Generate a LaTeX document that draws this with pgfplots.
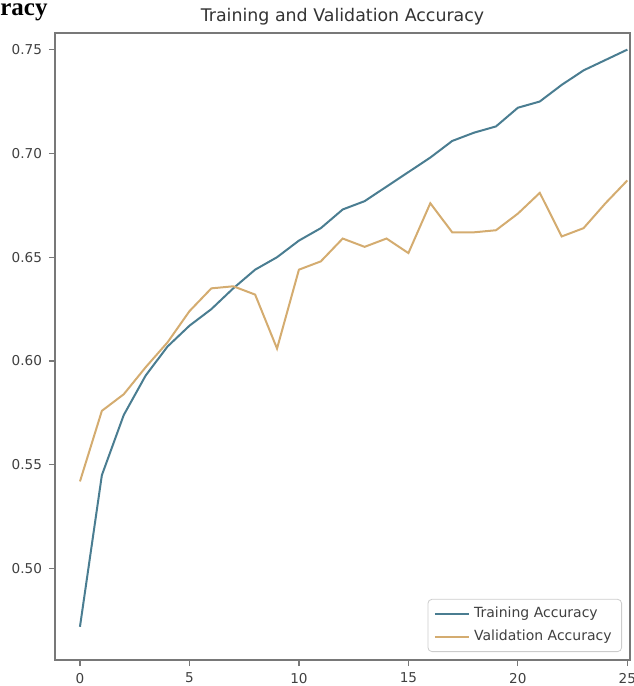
\documentclass[border=0pt]{standalone}
\usepackage{fontspec}
\setmainfont{DejaVu Sans}
\newfontfamily\serifbold{Liberation Serif}
\usepackage{pgfplots}
\pgfplotsset{compat=1.18}
\definecolor{trainc}{RGB}{74,125,145}
\definecolor{valc}{RGB}{212,172,112}
\definecolor{spine}{RGB}{120,120,120}
\begin{document}
\begin{tikzpicture}
\begin{axis}[
  scale only axis,
  width=287.5pt, height=313.5pt,
  xmin=-1.14, xmax=25.12,
  ymin=0.456, ymax=0.758,
  xtick={0,5,10,15,20,25},
  ytick={0.50,0.55,0.60,0.65,0.70,0.75},
  yticklabels={0.50,0.55,0.60,0.65,0.70,0.75},
  tick align=outside,
  tick pos=left,
  major tick length=3pt,
  every tick/.style={spine, line width=0.6pt},
  axis line style={spine, line width=0.7pt},
  /pgf/number format/assume math mode=true,
  ticklabel style={font=\fontsize{6.8}{8}\selectfont, text=black!75},
  title={Training and Validation Accuracy},
  title style={at={(0.5,1)}, anchor=base, yshift=-0.5pt,
    font=\fontsize{8.7}{10}\selectfont, text=black!80, inner sep=0pt},
  legend style={at={(1,0)}, anchor=south east, xshift=-4pt, yshift=4pt,
    draw=black!20, rounded corners=2pt, fill=white,
    font=\fontsize{7}{8.5}\selectfont, text=black!75,
    row sep=0.5pt, inner xsep=3pt, inner ysep=2pt},
  legend cell align=left,
]
\addplot[trainc, line width=1pt] coordinates {
(0,0.472) (1,0.545) (2,0.574) (3,0.593) (4,0.607) (5,0.617) (6,0.625)
(7,0.635) (8,0.644) (9,0.650) (10,0.658) (11,0.664) (12,0.673) (13,0.677)
(14,0.684) (15,0.691) (16,0.698) (17,0.706) (18,0.710) (19,0.713) (20,0.722)
(21,0.725) (22,0.733) (23,0.740) (24,0.745) (25,0.750)
};
\addlegendentry{Training Accuracy}
\addplot[valc, line width=1pt] coordinates {
(0,0.542) (1,0.576) (2,0.584) (3,0.597) (4,0.609) (5,0.624) (6,0.635)
(7,0.636) (8,0.632) (9,0.606) (10,0.644) (11,0.648) (12,0.659) (13,0.655)
(14,0.659) (15,0.652) (16,0.676) (17,0.662) (18,0.662) (19,0.663) (20,0.671)
(21,0.681) (22,0.660) (23,0.664) (24,0.676) (25,0.687)
};
\addlegendentry{Validation Accuracy}
\coordinate (ll) at (rel axis cs:0,0);
\coordinate (ur) at (rel axis cs:1,1);
\coordinate (ul) at (rel axis cs:0,1);
\end{axis}
\node[anchor=base west, font=\serifbold\bfseries\fontsize{12.5}{14}\selectfont, inner sep=0pt] at ([shift={(-27.5pt,8.5pt)}]ul) {racy};
\pgfresetboundingbox
\path ([shift={(-27.5pt,-13pt)}]ll) rectangle ([shift={(1.5pt,16.5pt)}]ur);
\end{tikzpicture}
\end{document}
